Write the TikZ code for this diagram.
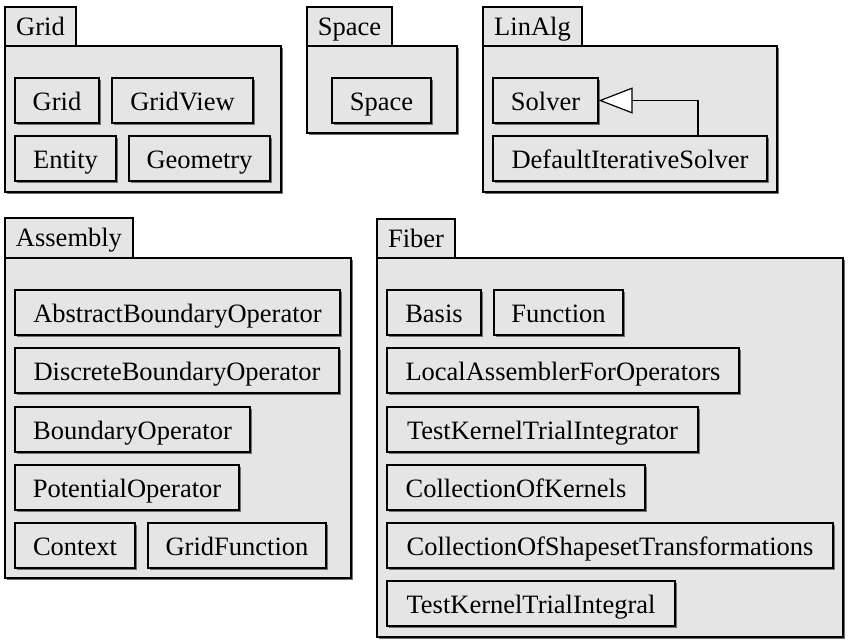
\documentclass[tikz,border=0pt]{standalone}
\usepackage{fontspec}
\setmainfont{Liberation Serif}
\usetikzlibrary{arrows.meta,shadows,calc}
\definecolor{pkgfill}{RGB}{229,229,229}
\tikzset{
  umlbase/.style={draw=black, line width=1.2pt, fill=pkgfill, inner sep=0pt,
    font=\fontsize{26.5}{30}\selectfont, text depth=0pt, align=center},
  shadowed/.style={drop shadow={shadow xshift=2pt, shadow yshift=-2pt, fill=black!55, opacity=1}},
  clsbox/.style={umlbase, shadowed, text height=20.4pt},
  pkgbody/.style={umlbase, shadowed},
  pkgtab/.style={umlbase, text height=17.5pt},
  inherit/.style={line width=1.2pt, -{Triangle[open, length=34pt, width=26pt, fill=white]}}
}
% style, name, x1, y1, x2, y2, text
\newcommand{\umlrect}[7]{%
  \node[#1, minimum width={(#5-#3)*1pt}, minimum height={(#6-#4)*1pt}]
    (#2) at ({(#3+#5)/2},{(#4+#6)/2}) {#7};}
\begin{document}
\begin{tikzpicture}[x=1pt,y=-1pt]
\useasboundingbox (0,0) rectangle (849,641);
% ---- Grid package
\umlrect{pkgbody}{gridbody}{5}{46}{281}{192}{}
\umlrect{pkgtab}{gridtab}{5}{7}{76}{46}{Grid}
\umlrect{clsbox}{grid}{15}{78}{99}{123}{Grid}
\umlrect{clsbox}{gridview}{112}{78}{253}{123}{GridView}
\umlrect{clsbox}{entity}{15}{136}{116}{181}{Entity}
\umlrect{clsbox}{geometry}{129}{136}{270}{181}{Geometry}
% ---- Space package
\umlrect{pkgbody}{spacebody}{307}{46}{457}{133}{}
\umlrect{pkgtab}{spacetab}{307}{7}{392}{46}{Space}
\umlrect{clsbox}{space}{332}{78}{431}{123}{Space}
% ---- LinAlg package
\umlrect{pkgbody}{linalgbody}{483}{46}{777}{192}{}
\umlrect{pkgtab}{linalgtab}{483}{7}{582}{46}{LinAlg}
\umlrect{clsbox}{solver}{493}{78}{598}{123}{Solver}
\umlrect{clsbox}{dis}{493}{136}{767}{181}{DefaultIterativeSolver}
\draw[inherit] ($(dis.north)+(68,0)$) |- (solver.east);
% ---- Assembly package
\umlrect{pkgbody}{assemblybody}{5}{258}{351}{578}{}
\umlrect{pkgtab}{assemblytab}{5}{218}{133}{258}{Assembly}
\umlrect{clsbox}{abo}{15}{290}{340}{335}{AbstractBoundaryOperator}
\umlrect{clsbox}{dbo}{15}{348}{339}{393}{DiscreteBoundaryOperator}
\umlrect{clsbox}{bo}{15}{407}{250}{452}{BoundaryOperator}
\umlrect{clsbox}{po}{15}{465}{239}{510}{PotentialOperator}
\umlrect{clsbox}{context}{15}{523}{135}{568}{Context}
\umlrect{clsbox}{gridfunction}{148}{523}{326}{568}{GridFunction}
% ---- Fiber package
\umlrect{pkgbody}{fiberbody}{377}{258}{843}{637}{}
\umlrect{pkgtab}{fibertab}{377}{219}{455}{258}{Fiber}
\umlrect{clsbox}{basis}{387}{290}{481}{335}{Basis}
\umlrect{clsbox}{function}{494}{290}{623}{335}{Function}
\umlrect{clsbox}{lafo}{387}{348}{739}{393}{LocalAssemblerForOperators}
\umlrect{clsbox}{tkti}{387}{407}{698}{452}{TestKernelTrialIntegrator}
\umlrect{clsbox}{cok}{387}{465}{645}{510}{CollectionOfKernels}
\umlrect{clsbox}{cost}{387}{523}{833}{568}{CollectionOfShapesetTransformations}
\umlrect{clsbox}{tktint}{387}{581}{675}{626}{TestKernelTrialIntegral}
\end{tikzpicture}
\end{document}
